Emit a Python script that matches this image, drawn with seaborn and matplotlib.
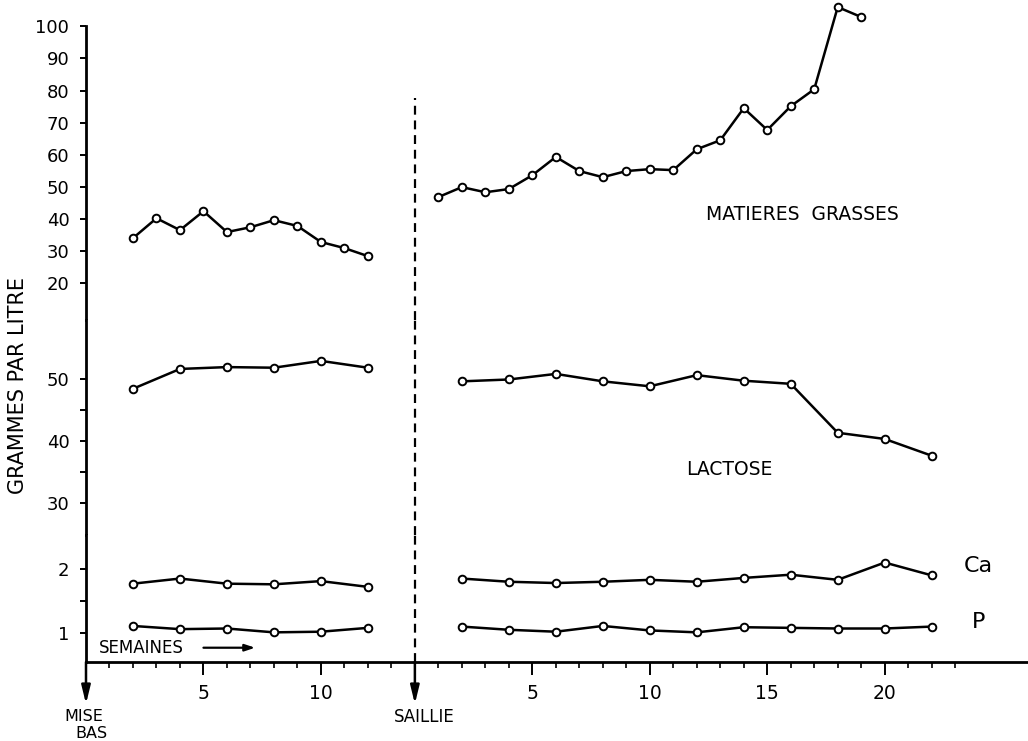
import matplotlib
matplotlib.use("Agg")
import matplotlib.pyplot as plt
import seaborn as sns
from matplotlib.gridspec import GridSpec

# Weeks: counted from parturition (mise bas) on the left, from service (saillie) on the right
SAILLIE = 14

# Matieres grasses (g/l)
mg_weeks_before = [2, 3, 4, 5, 6, 7, 8, 9, 10, 11, 12]
mg_before = [34.0, 40.2, 36.5, 42.4, 35.9, 37.4, 39.6, 37.8, 32.8, 30.9, 28.4]
mg_weeks_after = [1, 2, 3, 4, 5, 6, 7, 8, 9, 10, 11, 12, 13, 14, 15, 16, 17, 18, 19]
mg_after = [46.8, 49.9, 48.3, 49.3, 53.6, 59.3, 54.9, 53.0, 54.9, 55.5,
            55.2, 61.7, 64.5, 74.5, 67.7, 75.1, 80.4, 106.0, 102.9]

# Lactose, Ca, P (g/l), sampled every two weeks
weeks_before = [2, 4, 6, 8, 10, 12]
weeks_after = [2, 4, 6, 8, 10, 12, 14, 16, 18, 20, 22]
lactose_before = [48.4, 51.6, 51.9, 51.8, 52.9, 51.8]
lactose_after = [49.6, 49.9, 50.8, 49.6, 48.8, 50.6, 49.7, 49.2, 41.3, 40.3, 37.6]
ca_before = [1.77, 1.85, 1.77, 1.76, 1.81, 1.72]
ca_after = [1.85, 1.80, 1.78, 1.80, 1.83, 1.80, 1.86, 1.91, 1.83, 2.10, 1.90]
p_before = [1.11, 1.06, 1.07, 1.01, 1.02, 1.08]
p_after = [1.10, 1.05, 1.02, 1.11, 1.04, 1.01, 1.09, 1.08, 1.07, 1.07, 1.10]

# Axis ticks for each broken segment
top_ticks = [20, 30, 40, 50, 60, 70, 80, 90, 100]
mid_ticks = [30, 40, 50]
mid_minor = [35, 45]
low_ticks = [1, 2]
low_minor = [1.5]
x_major = [5, 10, SAILLIE + 5, SAILLIE + 10, SAILLIE + 15, SAILLIE + 20]
x_major_labels = ["5", "10", "5", "10", "15", "20"]

sns.set_style("white")
plt.rcParams["font.family"] = ["DejaVu Sans"]
plt.rcParams.update({"text.color": "black", "xtick.color": "black",
                     "ytick.color": "black", "axes.edgecolor": "black"})

fig = plt.figure(figsize=(10.28, 7.41), dpi=100)
gs = GridSpec(3, 1, height_ratios=[320, 215, 127], hspace=0,
              left=86 / 1028, right=1.0, top=1.0, bottom=1 - 662 / 741)
ax_top = fig.add_subplot(gs[0])
ax_mid = fig.add_subplot(gs[1])
ax_low = fig.add_subplot(gs[2])

line_kw = dict(color="black", linewidth=1.8, marker="o", markersize=5.5,
               markerfacecolor="white", markeredgecolor="black", markeredgewidth=1.4)

segments = [
    (ax_top, [(mg_weeks_before, mg_before, False), (mg_weeks_after, mg_after, True)]),
    (ax_mid, [(weeks_before, lactose_before, False), (weeks_after, lactose_after, True)]),
    (ax_low, [(weeks_before, ca_before, False), (weeks_after, ca_after, True),
              (weeks_before, p_before, False), (weeks_after, p_after, True)]),
]
for ax, series in segments:
    for wk, vals, after in series:
        xs = [w + SAILLIE if after else w for w in wk]
        sns.lineplot(x=xs, y=vals, ax=ax, **line_kw)

limits = [(8.5, 108.2), (24.8, 59.5), (0.547, 2.53)]
for ax, ylim in zip([ax_top, ax_mid, ax_low], limits):
    ax.set_xlim(0, 40.1)
    ax.set_ylim(*ylim)
    for side in ["top", "right", "bottom"]:
        ax.spines[side].set_visible(False)
    ax.spines["left"].set_linewidth(2.0)
    ax.spines["left"].set_capstyle("projecting")
    ax.tick_params(axis="y", which="both", direction="out", length=4, width=1.4,
                   pad=8, labelsize=13, left=True)
    ax.tick_params(axis="x", bottom=False, labelbottom=False)

ax_top.spines["left"].set_bounds(8.5, 100)
ax_top.set_yticks(top_ticks)
ax_mid.set_yticks(mid_ticks)
ax_mid.set_yticks(mid_minor, minor=True)
ax_low.set_yticks(low_ticks)
ax_low.set_yticks(low_minor, minor=True)

# x axis (bottom segment only)
ax_low.spines["bottom"].set_visible(True)
ax_low.spines["bottom"].set_linewidth(2.0)
ax_low.spines["bottom"].set_capstyle("projecting")
ax_low.set_xticks(x_major)
ax_low.set_xticklabels(x_major_labels)
minor_x = [w for w in range(1, SAILLIE)] + [SAILLIE + w for w in range(1, 24)]
ax_low.set_xticks(minor_x, minor=True)
ax_low.tick_params(axis="x", which="major", bottom=True, labelbottom=True, direction="out",
                   length=9, width=1.4, pad=7, labelsize=13.5)
ax_low.tick_params(axis="x", which="minor", bottom=True, direction="out", length=4, width=1.2)

# Saillie dashed line
dash = (0, (4, 2.6))
ax_top.vlines(SAILLIE, 8.5, 77.6, colors="black", linestyles=dash, linewidth=1.6)
ax_mid.axvline(SAILLIE, color="black", linestyle=dash, linewidth=1.6)
ax_low.axvline(SAILLIE, color="black", linestyle=dash, linewidth=1.6)

# Arrows under the time axis
xfrm = ax_low.get_xaxis_transform()
arrow_kw = dict(arrowstyle="-|>,head_length=0.9,head_width=0.22", color="black", lw=1.8,
                mutation_scale=12, shrinkA=0, shrinkB=0)
for x0 in [0, SAILLIE]:
    ax_low.annotate("", xy=(x0, -0.33), xytext=(x0, 0), xycoords=xfrm, textcoords=xfrm,
                    arrowprops=arrow_kw, annotation_clip=False)
ax_low.text(-0.1, -0.43, "MISE", transform=xfrm, ha="center", va="center", fontsize=11.5)
ax_low.text(0.25, -0.56, "BAS", transform=xfrm, ha="center", va="center", fontsize=11.5)
ax_low.text(SAILLIE + 0.4, -0.43, "SAILLIE", transform=xfrm, ha="center", va="center",
            fontsize=12)

# SEMAINES with arrow
ax_low.text(0.55, 0.77, "SEMAINES", ha="left", va="center", fontsize=12)
ax_low.annotate("", xy=(7.2, 0.77), xytext=(5.0, 0.77),
                arrowprops=dict(arrowstyle="-|>,head_length=0.6,head_width=0.2",
                                color="black", lw=1.6, mutation_scale=10,
                                shrinkA=0, shrinkB=0))

# Series names
ax_top.text(30.5, 41.5, "MATIERES  GRASSES", ha="center", va="center", fontsize=13.5)
ax_mid.text(27.4, 35.3, "LACTOSE", ha="center", va="center", fontsize=13.5)
ax_low.text(38.0, 2.05, "Ca", ha="center", va="center", fontsize=16)
ax_low.text(38.0, 1.17, "P", ha="center", va="center", fontsize=16)

fig.text(18 / 1028, 1 - 385 / 741, "GRAMMES PAR LITRE", rotation=90,
         ha="center", va="center", fontsize=15)

fig.savefig("out.png", dpi=100)
